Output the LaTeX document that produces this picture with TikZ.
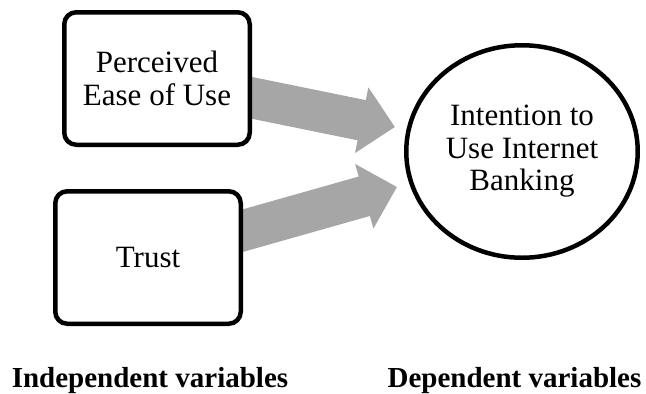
\documentclass[tikz,border=0pt]{standalone}
\usepackage{fontspec}
\setmainfont{Liberation Serif}
\usetikzlibrary{shapes.geometric,arrows.meta,backgrounds}
\definecolor{arrgray}{RGB}{166,166,166}
\begin{document}
\begin{tikzpicture}[x=1pt,y=-1pt,
  varbox/.style={draw,line width=4.5pt,rounded corners=12pt,fill=white,
    minimum width=185.5pt,minimum height=132.5pt,inner sep=0pt,align=center,
    font=\fontsize{31}{32.5}\selectfont},
  depell/.style={draw,ellipse,line width=4.5pt,fill=white,
    minimum width=231.5pt,minimum height=212.5pt,inner sep=0pt,align=center,
    font=\fontsize{31}{32.5}\selectfont},
  blockarrow/.style={draw=arrgray,line width=41pt,line cap=butt,
    -{Triangle[length=34pt,width=65pt,fill=arrgray]}},
  caption/.style={anchor=base,inner sep=0pt,font=\fontsize{29}{32}\selectfont\bfseries}]
\useasboundingbox (0,0) rectangle (646,394);
\node[varbox] (peou) at (157,78.5) {Perceived\\Ease of Use};
\node[varbox] (trust) at (148,257.5) {Trust};
\node[depell] (iuib) at (522,151.5) {Intention to\\Use Internet\\Banking};
\coordinate (t1) at (395,127);
\coordinate (t2) at (397,187);
\begin{scope}[on background layer]
  \draw[blockarrow] (peou.center) -- (t1);
  \draw[blockarrow] (trust.center) -- (t2);
\end{scope}
\node[caption] (indep) at (150,387) {Independent variables};
\node[caption] (dep) at (514.5,387) {Dependent variables};
\end{tikzpicture}
\end{document}
